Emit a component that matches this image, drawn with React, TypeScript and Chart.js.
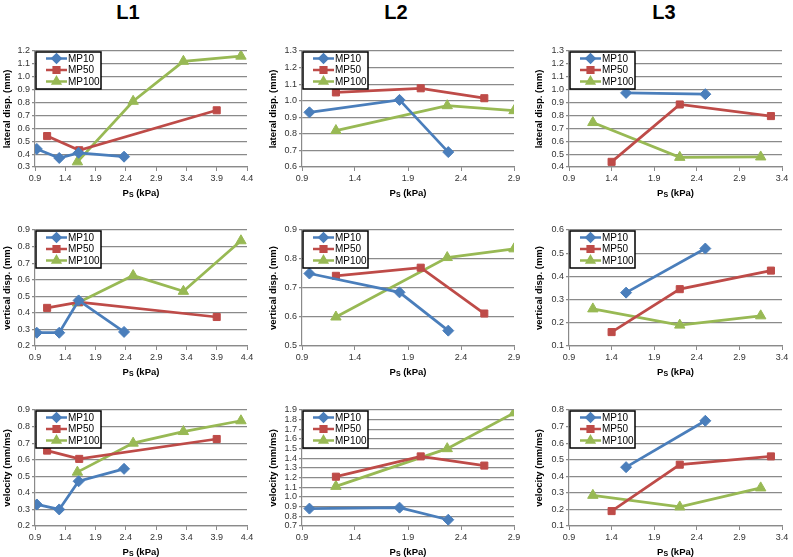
import { useEffect, useRef } from "react";
import { Chart, registerables } from "chart.js";
import { drawPoint } from "chart.js/helpers";

Chart.register(...registerables);

const seriesNames = ["MP10", "MP50", "MP100"];
const seriesColors = ["#4A7EBB", "#BE4B48", "#98B954"];
const markerStyles = ["rectRot", "rect", "triangle"];
const markerSizes = [5.5, 5, 6];

const locations = ["L1", "L2", "L3"];
const yTitles = ["lateral disp. (mm)", "vertical disp. (mm)", "velocity (mm/ms)"];

// Ps (kPa) per location and series
const l1X = [
  [0.93, 1.3, 1.62, 2.37],
  [1.1, 1.63, 3.9],
  [1.6, 2.52, 3.35, 4.3],
];
const l2X = [
  [0.97, 1.82, 2.28],
  [1.22, 2.02, 2.62],
  [1.22, 2.27, 2.9],
];
const l3X = [
  [1.57, 2.5],
  [1.4, 2.2, 3.27],
  [1.18, 2.2, 3.15],
];

// lateral disp.
const l1Lateral = [
  [0.44, 0.37, 0.41, 0.38],
  [0.54, 0.43, 0.74],
  [0.34, 0.81, 1.12, 1.16],
];
const l2Lateral = [
  [0.93, 1.005, 0.69],
  [1.05, 1.075, 1.015],
  [0.82, 0.97, 0.94],
];
const l3Lateral = [
  [0.975, 0.965],
  [0.44, 0.885, 0.795],
  [0.745, 0.475, 0.478],
];

// vertical disp.
const l1Vertical = [
  [0.28, 0.28, 0.475, 0.285],
  [0.43, 0.465, 0.375],
  [0.46, 0.625, 0.53, 0.835],
];
const l2Vertical = [
  [0.75, 0.685, 0.553],
  [0.742, 0.77, 0.612],
  [0.6, 0.805, 0.835],
];
const l3Vertical = [
  [0.33, 0.52],
  [0.16, 0.345, 0.425],
  [0.26, 0.19, 0.23],
];

// velocity
const l1Velocity = [
  [0.33, 0.3, 0.47, 0.545],
  [0.655, 0.605, 0.725],
  [0.525, 0.7, 0.77, 0.835],
];
const l2Velocity = [
  [0.88, 0.89, 0.765],
  [1.21, 1.42, 1.325],
  [1.11, 1.5, 1.87],
];
const l3Velocity = [
  [0.455, 0.735],
  [0.19, 0.47, 0.52],
  [0.285, 0.215, 0.33],
];

// tick labels
const l1XTicks = [0.9, 1.4, 1.9, 2.4, 2.9, 3.4, 3.9, 4.4];
const l2XTicks = [0.9, 1.4, 1.9, 2.4, 2.9];
const l3XTicks = [0.9, 1.4, 1.9, 2.4, 2.9, 3.4];

const l1LateralTicks = [0.3, 0.4, 0.5, 0.6, 0.7, 0.8, 0.9, 1.0, 1.1, 1.2];
const l2LateralTicks = [0.6, 0.7, 0.8, 0.9, 1.0, 1.1, 1.2, 1.3];
const l3LateralTicks = [0.4, 0.5, 0.6, 0.7, 0.8, 0.9, 1.0, 1.1, 1.2, 1.3];
const l1VerticalTicks = [0.2, 0.3, 0.4, 0.5, 0.6, 0.7, 0.8, 0.9];
const l2VerticalTicks = [0.5, 0.6, 0.7, 0.8, 0.9];
const l3VerticalTicks = [0.1, 0.2, 0.3, 0.4, 0.5, 0.6];
const l1VelocityTicks = [0.2, 0.3, 0.4, 0.5, 0.6, 0.7, 0.8, 0.9];
const l2VelocityTicks = [0.7, 0.8, 0.9, 1.0, 1.1, 1.2, 1.3, 1.4, 1.5, 1.6, 1.7, 1.8, 1.9];
const l3VelocityTicks = [0.1, 0.2, 0.3, 0.4, 0.5, 0.6, 0.7, 0.8];

const FONT = "'Liberation Sans', Arial, sans-serif";
const GRID = "#8a8a8a";

// layout of the 3x3 grid
const colLeft = [0, 266, 532];
const colWidth = [258, 258, 261];
const colAxisW = [35, 36, 37];
const colPadRight = [11, 10, 11];
const rowTop = [38, 217, 397];

const boxLegend = {
  id: "boxLegend",
  afterDatasetsDraw(chart: any) {
    const { ctx, chartArea } = chart;
    const x = chartArea.left + 1;
    const y = chartArea.top + 1;
    const w = 65;
    const h = 37;
    ctx.save();
    ctx.fillStyle = "#fff";
    ctx.fillRect(x, y, w, h);
    ctx.strokeStyle = "#000";
    ctx.lineWidth = 1.5;
    ctx.strokeRect(x, y, w, h);
    chart.data.datasets.forEach((ds: any, i: number) => {
      const cy = y + 6.5 + i * 11.5;
      ctx.strokeStyle = ds.borderColor;
      ctx.fillStyle = ds.borderColor;
      ctx.lineWidth = 2.5;
      ctx.beginPath();
      ctx.moveTo(x + 10, cy);
      ctx.lineTo(x + 31, cy);
      ctx.stroke();
      drawPoint(ctx, { pointStyle: ds.pointStyle, radius: 4, rotation: 0, borderWidth: 1 }, x + 20.5, cy);
      ctx.fillStyle = "#000";
      ctx.font = `10px ${FONT}`;
      ctx.textBaseline = "middle";
      ctx.textAlign = "left";
      ctx.fillText(ds.label, x + 32, cy + 0.5);
    });
    ctx.restore();
  },
};

const xTitle = {
  id: "xTitle",
  afterDraw(chart: any) {
    const { ctx, chartArea } = chart;
    const cx = (chartArea.left + chartArea.right) / 2;
    const cy = chartArea.bottom + 26;
    ctx.save();
    ctx.fillStyle = "#000";
    ctx.textBaseline = "middle";
    ctx.textAlign = "left";
    const big = `bold 9.5px ${FONT}`;
    const small = `bold 7px ${FONT}`;
    ctx.font = big;
    const wP = ctx.measureText("P").width;
    const rest = " (kPa)";
    const wRest = ctx.measureText(rest).width;
    ctx.font = small;
    const wS = ctx.measureText("S").width;
    let x = cx - (wP + wS + wRest) / 2;
    ctx.font = big;
    ctx.fillText("P", x, cy);
    x += wP;
    ctx.font = small;
    ctx.fillText("S", x, cy + 2);
    x += wS;
    ctx.font = big;
    ctx.fillText(rest, x, cy);
    ctx.restore();
  },
};

interface PanelProps {
  xs: number[][];
  ys: number[][];
  xTicks: number[];
  yTicks: number[];
  yTitle: string;
  col: number;
  row: number;
}

function Panel({ xs, ys, xTicks, yTicks, yTitle, col, row }: PanelProps) {
  const canvasRef = useRef<HTMLCanvasElement>(null);
  const chartRef = useRef<Chart | null>(null);

  useEffect(() => {
    if (!canvasRef.current) return;
    if (chartRef.current) chartRef.current.destroy();

    const datasets = seriesNames.map((name, i) => ({
      label: name,
      data: xs[i].map((x, j) => ({ x, y: ys[i][j] })),
      borderColor: seriesColors[i],
      backgroundColor: seriesColors[i],
      borderWidth: 2.75,
      pointStyle: markerStyles[i],
      pointRadius: markerSizes[i],
      pointBorderWidth: 1,
      showLine: true,
      tension: 0,
    }));

    chartRef.current = new Chart(canvasRef.current, {
      type: "scatter",
      data: { datasets } as any,
      plugins: [boxLegend, xTitle],
      options: {
        animation: false,
        responsive: true,
        maintainAspectRatio: false,
        layout: { padding: { top: 13, right: colPadRight[col], left: 0, bottom: 0 } },
        plugins: { legend: { display: false }, tooltip: { enabled: false } },
        scales: {
          x: {
            type: "linear",
            min: xTicks[0],
            max: xTicks[xTicks.length - 1],
            afterBuildTicks: (s: any) => {
              s.ticks = xTicks.map((v) => ({ value: v }));
            },
            afterFit: (s: any) => {
              s.height = 31;
            },
            ticks: {
              callback: (v: any) => Number(v).toFixed(1),
              font: { family: FONT, size: 9 },
              color: "#333",
              autoSkip: false,
              maxRotation: 0,
              padding: 2,
            },
            grid: { drawOnChartArea: false, drawTicks: true, tickLength: 4, color: GRID },
            border: { color: GRID, width: 1.2 },
          },
          y: {
            type: "linear",
            min: yTicks[0],
            max: yTicks[yTicks.length - 1],
            afterBuildTicks: (s: any) => {
              s.ticks = yTicks.map((v) => ({ value: v }));
            },
            afterFit: (s: any) => {
              s.width = colAxisW[col];
            },
            ticks: {
              callback: (v: any) => Number(v).toFixed(1),
              font: { family: FONT, size: 9 },
              color: "#333",
              autoSkip: false,
              padding: 2,
            },
            grid: { color: GRID, lineWidth: 1.2, drawTicks: true, tickLength: 3 },
            border: { color: GRID, width: 1.2 },
            title: {
              display: true,
              text: yTitle,
              font: { family: FONT, size: 9.5, weight: "bold" },
              color: "#000",
              padding: { top: 2, bottom: 0 },
            },
          },
        },
      } as any,
    });

    return () => {
      if (chartRef.current) {
        chartRef.current.destroy();
        chartRef.current = null;
      }
    };
  }, [xs, ys, xTicks, yTicks, yTitle, col, row]);

  return (
    <div
      style={{
        position: "absolute",
        left: colLeft[col],
        top: rowTop[row],
        width: colWidth[col],
        height: 160,
      }}
    >
      <canvas ref={canvasRef} />
    </div>
  );
}

const panels = [
  { xs: l1X, ys: l1Lateral, xTicks: l1XTicks, yTicks: l1LateralTicks, col: 0, row: 0 },
  { xs: l2X, ys: l2Lateral, xTicks: l2XTicks, yTicks: l2LateralTicks, col: 1, row: 0 },
  { xs: l3X, ys: l3Lateral, xTicks: l3XTicks, yTicks: l3LateralTicks, col: 2, row: 0 },
  { xs: l1X, ys: l1Vertical, xTicks: l1XTicks, yTicks: l1VerticalTicks, col: 0, row: 1 },
  { xs: l2X, ys: l2Vertical, xTicks: l2XTicks, yTicks: l2VerticalTicks, col: 1, row: 1 },
  { xs: l3X, ys: l3Vertical, xTicks: l3XTicks, yTicks: l3VerticalTicks, col: 2, row: 1 },
  { xs: l1X, ys: l1Velocity, xTicks: l1XTicks, yTicks: l1VelocityTicks, col: 0, row: 2 },
  { xs: l2X, ys: l2Velocity, xTicks: l2XTicks, yTicks: l2VelocityTicks, col: 1, row: 2 },
  { xs: l3X, ys: l3Velocity, xTicks: l3XTicks, yTicks: l3VelocityTicks, col: 2, row: 2 },
];

const headerCenters = [128, 396, 664];

export default function App() {
  return (
    <div
      style={{
        position: "fixed",
        left: 0,
        top: 0,
        width: 793,
        height: 557,
        background: "#fff",
        overflow: "hidden",
      }}
    >
      {locations.map((loc, i) => (
        <div
          key={loc}
          style={{
            position: "absolute",
            left: headerCenters[i] - 30,
            width: 60,
            top: 1,
            textAlign: "center",
            fontFamily: FONT,
            fontWeight: "bold",
            fontSize: 20,
            color: "#000",
          }}
        >
          {loc}
        </div>
      ))}
      {panels.map((p, i) => (
        <Panel key={i} {...p} yTitle={yTitles[p.row]} />
      ))}
    </div>
  );
}
